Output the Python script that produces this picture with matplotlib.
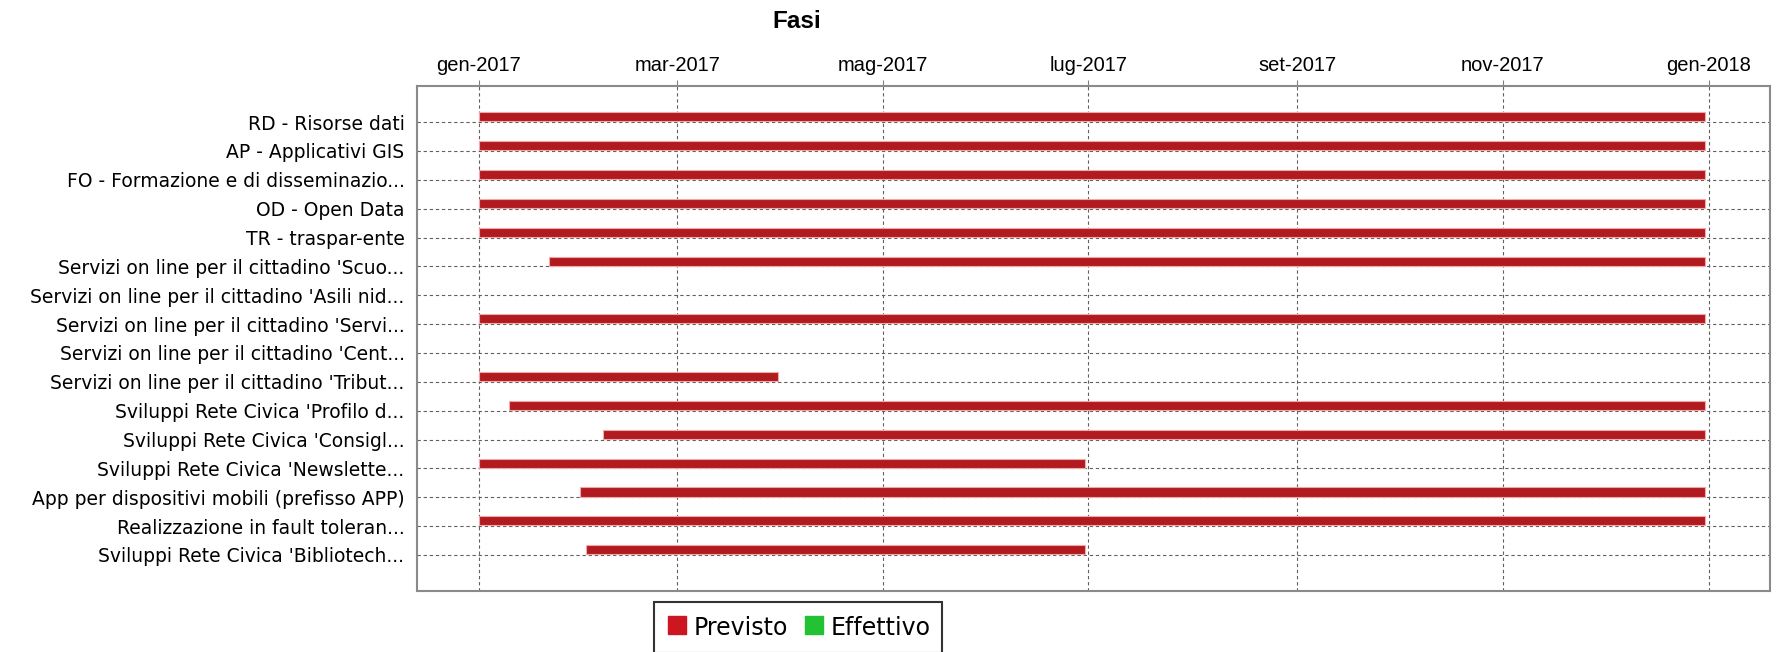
import numpy as np
import matplotlib
matplotlib.use('Agg')
import matplotlib.pyplot as plt
import matplotlib.dates as mdates
from matplotlib.lines import Line2D
import pandas as pd

# dati del diagramma (fasi e date previste)
fasi = [
    "RD - Risorse dati",
    "AP - Applicativi GIS",
    "FO - Formazione e di disseminazio...",
    "OD - Open Data",
    "TR - traspar-ente",
    "Servizi on line per il cittadino 'Scuo...",
    "Servizi on line per il cittadino 'Asili nid...",
    "Servizi on line per il cittadino 'Servi...",
    "Servizi on line per il cittadino 'Cent...",
    "Servizi on line per il cittadino 'Tribut...",
    "Sviluppi Rete Civica 'Profilo d...",
    "Sviluppi Rete Civica 'Consigl...",
    "Sviluppi Rete Civica 'Newslette...",
    "App per dispositivi mobili (prefisso APP)",
    "Realizzazione in fault toleran...",
    "Sviluppi Rete Civica 'Bibliotech...",
]
inizio_previsto = ["2017-01-01", "2017-01-01", "2017-01-01", "2017-01-01", "2017-01-01",
                   "2017-01-22", None, "2017-01-01", None, "2017-01-01",
                   "2017-01-10", "2017-02-07", "2017-01-01", "2017-01-31",
                   "2017-01-01", "2017-02-02"]
fine_previsto = ["2017-12-31", "2017-12-31", "2017-12-31", "2017-12-31", "2017-12-31",
                 "2017-12-31", None, "2017-12-31", None, "2017-03-31",
                 "2017-12-31", "2017-12-31", "2017-06-30", "2017-12-31",
                 "2017-12-31", "2017-06-30"]
mesi = ['gen', 'feb', 'mar', 'apr', 'mag', 'giu', 'lug', 'ago', 'set', 'ott', 'nov', 'dic']

W, H = 1780, 652
fig = plt.figure(figsize=(W / 100, H / 100), dpi=100)
fig.patch.set_facecolor('white')
ax = fig.add_axes([417 / W, 1 - 591 / H, (1770 - 417) / W, (591 - 86) / H])

y = np.arange(len(fasi))
for i in range(len(fasi)):
    if inizio_previsto[i] is None:
        continue
    s = mdates.date2num(pd.Timestamp(inizio_previsto[i]))
    e = mdates.date2num(pd.Timestamp(fine_previsto[i]))
    ax.barh(y[i] - 0.18, e - s, left=s, height=0.32, color='#b11b1f',
            edgecolor='#f0a8a8', linewidth=0.8, zorder=3)

# asse x (date) in alto, margine 5%
x0 = mdates.date2num(pd.Timestamp("2017-01-01"))
x1 = mdates.date2num(pd.Timestamp("2018-01-01"))
m = (x1 - x0) * 0.05
ax.set_xlim(x0 - m, x1 + m)
ax.set_ylim(len(fasi) - 1 + 1.25, -1.25)

ax.xaxis.tick_top()
ax.xaxis.set_major_locator(mdates.MonthLocator(bymonth=[1, 3, 5, 7, 9, 11]))
ax.xaxis.set_major_formatter(plt.FuncFormatter(
    lambda v, p: f"{mesi[mdates.num2date(v).month - 1]}-{mdates.num2date(v).year}"))
ax.tick_params(axis='x', length=4, color='#808080', pad=4, labelsize=14.5)
for lab in ax.get_xticklabels():
    lab.set_family('Liberation Sans')

ax.set_yticks(y)
ax.set_yticklabels(fasi, fontsize=13.5, family='DejaVu Sans')
ax.tick_params(axis='y', length=0, pad=9)

ax.set_axisbelow(True)
ax.grid(True, axis='both', color='#606060', linestyle=(0, (3, 2.5)), linewidth=0.8)
for sp in ax.spines.values():
    sp.set_color('#8a8a8a')
    sp.set_linewidth(1.5)

fig.text(797 / W, 1 - 22 / H, 'Fasi', ha='center', va='center', fontsize=17.5,
         fontweight='bold', family='Liberation Sans')

handles = [Line2D([], [], marker='s', linestyle='none', markersize=13,
                  markerfacecolor='#cc1620', markeredgecolor='#cc1620'),
           Line2D([], [], marker='s', linestyle='none', markersize=13,
                  markerfacecolor='#22c232', markeredgecolor='#22c232')]
leg = fig.legend(handles, ['Previsto', 'Effettivo'], loc='upper center',
                 bbox_to_anchor=(798 / W, 1 - 602 / H), ncol=2, frameon=True,
                 fancybox=False, edgecolor='black', fontsize=17,
                 handletextpad=0.2, columnspacing=0.6, borderpad=0.5,
                 handlelength=1.0, handleheight=1.4, borderaxespad=0)
leg.get_frame().set_linewidth(1.5)

fig.savefig('out.png', dpi=100, facecolor='white')
